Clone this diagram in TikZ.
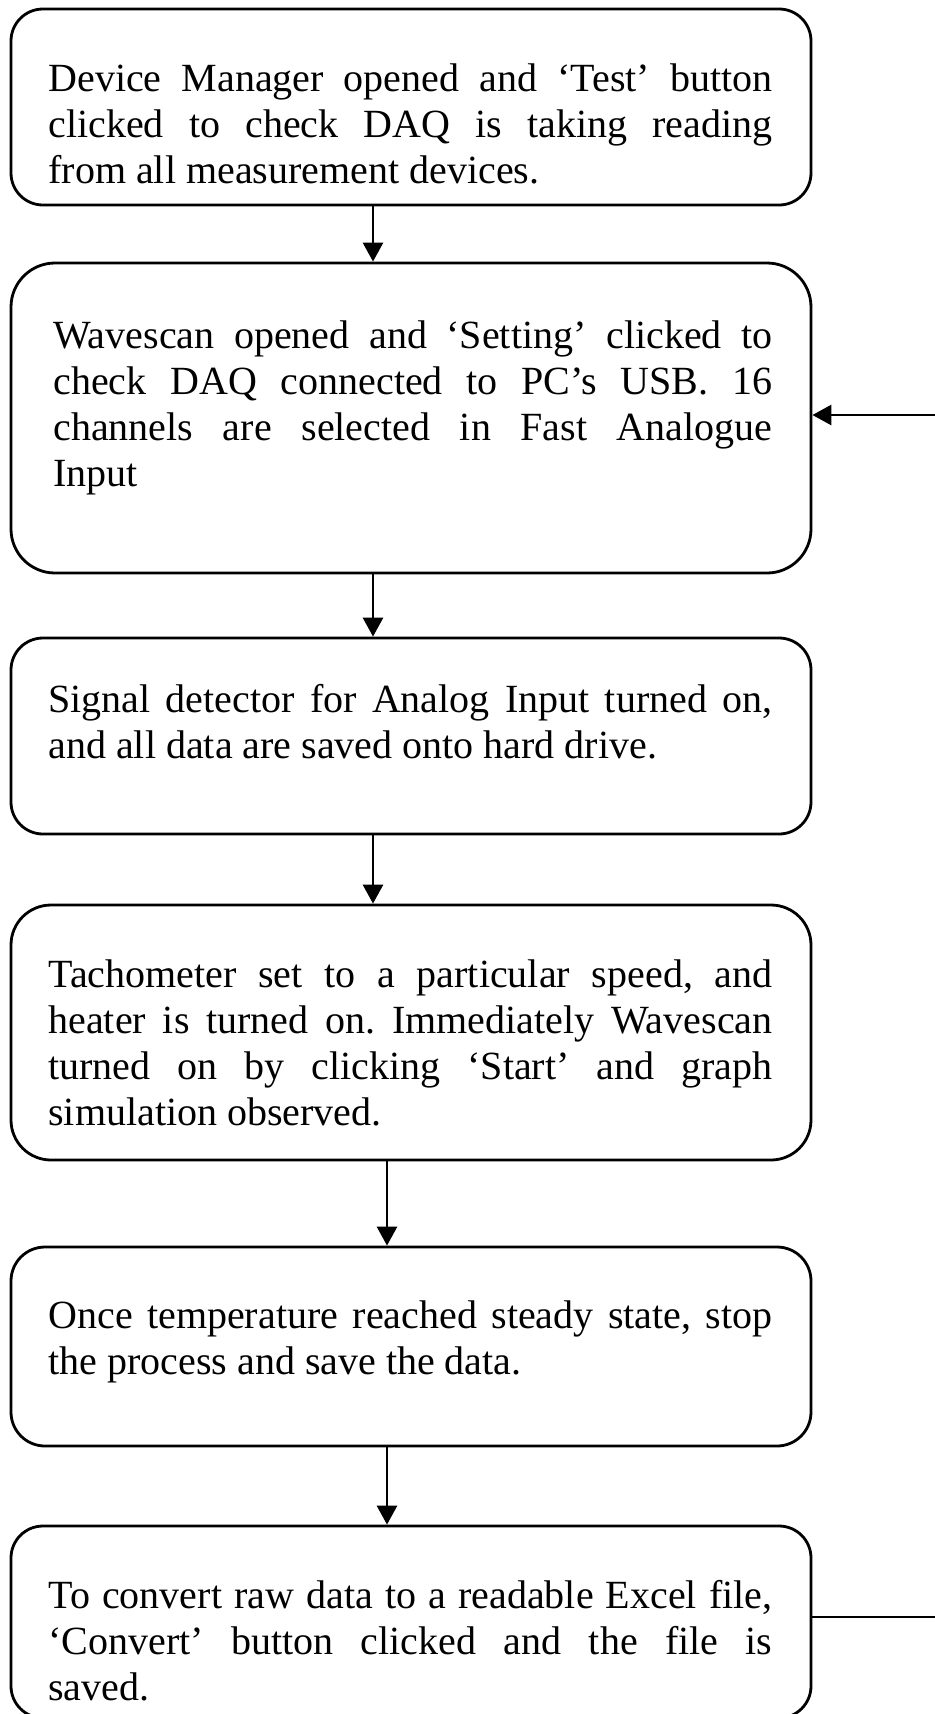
\documentclass[tikz,border=0pt]{standalone}
\usepackage{fontspec}
\setmainfont{Liberation Serif}
\usetikzlibrary{arrows.meta}
\hbadness=10000
\frenchspacing

\begin{document}
\begin{tikzpicture}[x=0.5pt, y=-0.5pt,
  stepbox/.style={draw, line width=1.4pt, inner sep=0pt, minimum width=400pt},
  txt/.style={anchor=north west, inner sep=0pt, align=justify,
    font=\fontsize{20pt}{23pt}\selectfont},
  arr/.style={line width=1.4pt, -{Triangle[length=9.5pt, width=10pt]}},
  link/.style={line width=1.4pt}]
\useasboundingbox (0,0) rectangle (935,1714);

% process boxes
\node[stepbox, rounded corners=16pt, minimum height=98pt]   (b1) at (411,107)    {};
\node[stepbox, rounded corners=22pt, minimum height=155pt]  (b2) at (411,418)    {};
\node[stepbox, rounded corners=16pt, minimum height=98pt]   (b3) at (411,736)    {};
\node[stepbox, rounded corners=20pt, minimum height=127.5pt](b4) at (411,1032.5) {};
\node[stepbox, rounded corners=17pt, minimum height=99.5pt] (b5) at (411,1346.5) {};
\node[stepbox, rounded corners=16pt, minimum height=96pt]   (b6) at (411,1622)   {};

% box texts
\node[txt, text width=362pt] (t1) at (48,58.8) {\strut Device Manager opened and ‘Test’ button\linebreak
  clicked to check DAQ is taking reading\linebreak
  from all measurement devices.};
\node[txt, text width=359.5pt] (t2) at (53,315.8) {\strut Wavescan opened and ‘Setting’ clicked to\linebreak
  check DAQ connected to PC’s USB. 16\linebreak
  channels are selected in Fast Analogue\linebreak
  Input};
\node[txt, text width=362pt] (t3) at (48,679.8) {\strut Signal detector for Analog Input turned on,\linebreak
  and all data are saved onto hard drive.};
\node[txt, text width=362pt] (t4) at (48,954.8) {\strut Tachometer set to a particular speed, and\linebreak
  heater is turned on. Immediately Wavescan\linebreak
  turned on by clicking ‘Start’ and graph\linebreak
  simulation observed.};
\node[txt, text width=362pt] (t5) at (48,1295.8) {\strut Once temperature reached steady state, stop\linebreak
  the process and save the data.};
\node[txt, text width=362pt] (t6) at (48,1575.8) {\strut To convert raw data to a readable Excel file,\linebreak
  ‘Convert’ button clicked and the file is\linebreak
  saved.};

% connectors
\coordinate (ca) at (373,0);
\coordinate (cb) at (387,0);
\draw[arr] (ca |- b1.south) -- (ca |- b2.north);
\draw[arr] (ca |- b2.south) -- (ca |- b3.north);
\draw[arr] (ca |- b3.south) -- (ca |- b4.north);
\draw[arr] (cb |- b4.south) -- (cb |- b5.north);
\draw[arr] (cb |- b5.south) -- (cb |- b6.north);

% loop back along the right margin
\coordinate (e1) at (935,415);
\coordinate (e2) at (935,1617);
\draw[arr] (e1) -- (e1 -| b2.east);
\draw[link] (e2 -| b6.east) -- (e2);
\end{tikzpicture}
\end{document}
